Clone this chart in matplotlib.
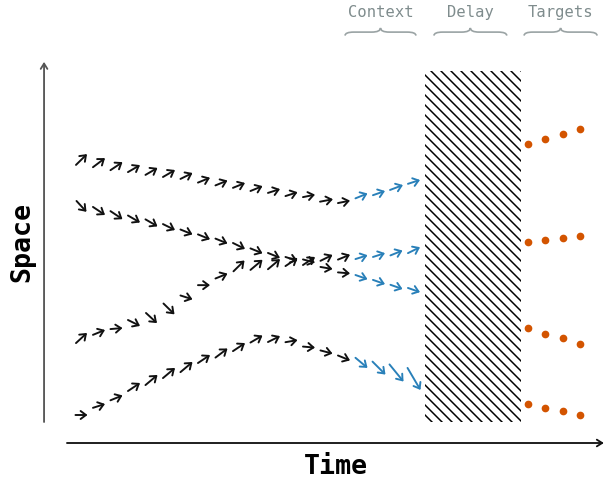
import matplotlib
matplotlib.use("Agg")
import matplotlib.pyplot as plt
from matplotlib.patches import FancyArrowPatch, Rectangle, PathPatch
from matplotlib.path import Path

# time steps of the observed trajectories (last 4 = context window)
steps = [0, 1, 2, 3, 4, 5, 6, 7, 8, 9, 10, 11, 12, 13, 14, 15, 16, 17, 18, 19]
n_context = 4

# position (space) of each arrow and its velocity (dt, ds)
traj_a_s = [75.0, 74.1, 73.1, 72.4, 71.6, 71.0, 70.3, 69.1, 68.3, 67.6, 66.7, 66.0, 65.1, 64.6, 63.3, 62.9, 64.6, 65.4, 67.0, 68.6]
traj_a_u = [0.63, 0.69, 0.69, 0.69, 0.69, 0.69, 0.69, 0.69, 0.69, 0.69, 0.69, 0.69, 0.69, 0.69, 0.74, 0.69, 0.69, 0.69, 0.74, 0.69]
traj_a_v = [3.1, 2.6, 2.3, 2.0, 2.0, 2.0, 1.7, 1.4, 1.4, 1.4, 1.4, 1.1, 1.1, 0.7, 0.7, 0.7, 1.4, 1.2, 1.4, 1.1]

traj_b_s = [61.6, 60.3, 59.1, 58.0, 56.9, 55.7, 54.3, 52.9, 51.7, 50.3, 48.9, 47.6, 46.6, 46.0, 44.0, 42.6, 41.4, 40.0, 38.6, 37.7]
traj_b_u = [0.57, 0.69, 0.69, 0.69, 0.69, 0.69, 0.69, 0.69, 0.69, 0.69, 0.69, 0.69, 0.69, 0.69, 0.69, 0.69, 0.69, 0.69, 0.69, 0.69]
traj_b_v = [-3.1, -2.3, -2.3, -2.0, -2.0, -1.7, -1.4, -1.4, -1.4, -1.7, -1.4, -1.4, -1.1, -0.9, -0.6, -0.3, -1.2, -1.2, -1.2, -1.2]

traj_c_s = [24.0, 25.6, 26.7, 28.3, 29.7, 32.3, 35.6, 39.1, 41.7, 44.6, 44.9, 45.1, 45.7, 46.0, 46.9, 47.1, 47.1, 47.7, 48.3, 49.1]
traj_c_u = [0.63, 0.69, 0.69, 0.69, 0.63, 0.63, 0.69, 0.69, 0.69, 0.63, 0.69, 0.69, 0.69, 0.69, 0.69, 0.69, 0.69, 0.69, 0.69, 0.69]
traj_c_v = [2.9, 1.4, 0.3, -1.7, -2.9, -3.1, -1.1, 0.0, 1.4, 3.1, 2.9, 2.9, 2.3, 2.3, 1.7, 1.4, 1.1, 1.1, 1.4, 1.7]

traj_d_s = [2.0, 4.6, 6.9, 10.0, 12.0, 14.0, 15.7, 18.0, 19.7, 21.4, 23.7, 23.7, 23.1, 21.4, 20.0, 18.3, 16.9, 15.4, 14.0, 12.3]
traj_d_u = [0.69, 0.69, 0.69, 0.69, 0.69, 0.69, 0.69, 0.69, 0.69, 0.69, 0.69, 0.69, 0.69, 0.69, 0.69, 0.69, 0.69, 0.74, 0.80, 0.74]
traj_d_v = [0.0, 1.1, 1.4, 2.3, 2.9, 2.9, 2.9, 2.3, 2.6, 2.3, 2.0, 1.7, 0.6, -0.3, -0.9, -1.4, -2.9, -3.7, -4.9, -6.3]

# future targets after the delay
target_steps = [25.5, 26.5, 27.5, 28.5]
targets_a = [79.3, 80.8, 82.2, 83.6]
targets_b = [51.3, 52.0, 52.5, 53.1]
targets_c = [26.8, 25.2, 23.9, 22.4]
targets_d = [5.1, 4.0, 3.1, 2.0]

delay_start, delay_end = 19.63, 25.1

section_labels = ["Context", "Delay", "Targets"]
section_starts = [15.06, 20.14, 25.29]
section_ends = [19.11, 24.30, 29.46]

BLACK = "#111111"
BLUE = "#2980b9"
ORANGE = "#d35400"
GREY = "#7f8c8d"

fig = plt.figure(figsize=(605 / 120, 480 / 120), dpi=120)
ax = fig.add_axes([0, 0, 1, 1])
ax.set_xlim(-4.657, 29.914)
ax.set_ylim(-16.571, 120.571)
ax.axis("off")


def arrow(x, y, u, v, color):
    p = FancyArrowPatch((x - u / 2, y - v / 2), (x + u / 2, y + v / 2),
                        arrowstyle="->,head_length=0.4,head_width=0.3",
                        mutation_scale=8, lw=1.15, color=color,
                        shrinkA=0, shrinkB=0)
    ax.add_patch(p)


trajs = [(traj_a_s, traj_a_u, traj_a_v), (traj_b_s, traj_b_u, traj_b_v),
         (traj_c_s, traj_c_u, traj_c_v), (traj_d_s, traj_d_u, traj_d_v)]
for s, u, v in trajs:
    for i, t in enumerate(steps):
        col = BLUE if i >= len(steps) - n_context else BLACK
        arrow(t, s[i], u[i], v[i], col)

for tg in [targets_a, targets_b, targets_c, targets_d]:
    ax.plot(target_steps, tg, "o", ms=3.6, color=ORANGE, mec=ORANGE)

# delay window
plt.rcParams["hatch.linewidth"] = 0.9
ax.add_patch(Rectangle((delay_start, 0), delay_end - delay_start, 100.3,
                       fill=False, hatch="\\\\\\\\", edgecolor="black", lw=0))


def brace(x0, x1, yb=110.4, yf=111.4, yp=112.6, r=0.5):
    xm = (x0 + x1) / 2
    verts = [(x0, yb), (x0, yf), (x0 + r, yf), (xm - r, yf), (xm, yf), (xm, yp),
             (xm, yf), (xm + r, yf), (x1 - r, yf), (x1, yf), (x1, yb)]
    codes = [Path.MOVETO, Path.CURVE3, Path.CURVE3, Path.LINETO, Path.CURVE3, Path.CURVE3,
             Path.CURVE3, Path.CURVE3, Path.LINETO, Path.CURVE3, Path.CURVE3]
    ax.add_patch(PathPatch(Path(verts, codes), fill=False, ec="#9aa3a4", lw=1.0))


for lab, a, b in zip(section_labels, section_starts, section_ends):
    brace(a, b)
    ax.text((a + b) / 2, 116.9, lab, ha="center", va="center", color=GREY,
            family="DejaVu Sans Mono", fontsize=9.3)

# axes arrows
ax.annotate("", xy=(-2.14, 102.9), xytext=(-2.14, 0),
            arrowprops=dict(arrowstyle="->,head_length=0.4,head_width=0.25",
                            mutation_scale=8, lw=1.1, color="#555555",
                            shrinkA=0, shrinkB=0))
ax.annotate("", xy=(29.85, -6.0), xytext=(-0.83, -6.0),
            arrowprops=dict(arrowstyle="->,head_length=0.4,head_width=0.25",
                            mutation_scale=8, lw=1.1, color=BLACK,
                            shrinkA=0, shrinkB=0))
ax.text(14.54, -12.9, "Time", ha="center", va="center", fontsize=16,
        fontweight="bold", family="DejaVu Sans Mono")
ax.text(-3.4, 51.4, "Space", ha="center", va="center", rotation=90,
        fontsize=16, fontweight="bold", family="DejaVu Sans Mono")

fig.savefig("out.png", dpi=120)
